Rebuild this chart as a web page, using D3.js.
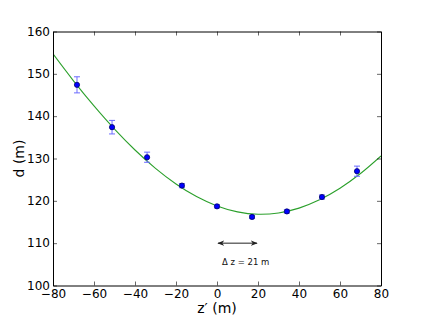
<!DOCTYPE html>
<html><head><meta charset="utf-8">
<script src="https://cdn.jsdelivr.net/npm/d3@7"></script>
<style>body{margin:0;background:#fff}svg{display:block}text{font-family:"DejaVu Sans",sans-serif}</style>
</head><body><svg id="c" width="424" height="318"></svg>
<script>
const zPos = [-68.3, -51.2, -34.1, -17.1, 0.0, 17.1, 34.1, 51.2, 68.3];
const dVal = [147.4, 137.4, 130.3, 123.6, 118.7, 116.2, 117.5, 120.9, 127.0];
const dErr = [1.9, 1.6, 1.2, 0.5, 0.4, 0.4, 0.4, 0.5, 1.2];
const fitZ = [-80, -70, -60, -50, -40, -30, -20, -10, 0, 10, 20, 30, 40, 50, 60, 70, 80];
const fitD = [154.70, 148.34, 142.41, 136.94, 132.01, 127.67, 123.98, 121.00, 118.80, 117.40, 116.84, 117.14, 118.28, 120.24, 122.98, 126.45, 130.60];
const xTicks = [-80, -60, -40, -20, 0, 20, 40, 60, 80];
const yTicks = [100, 110, 120, 130, 140, 150, 160];
const arrowZ = [0, 20];
const arrowD = 110;
const annText = "Δ z = 21 m";
const annZ = 14, annD = 105;

const svg = d3.select("#c");
const L = 53, R = 381, T = 31.5, B = 285.5;
const x = d3.scaleLinear().domain([-80, 80]).range([L, R]);
const y = d3.scaleLinear().domain([100, 160]).range([B, T]);
const fmt = d => d < 0 ? "\u2212" + Math.abs(d) : String(d);

const defs = svg.append("defs");
const clip = defs.append("clipPath").attr("id", "pc");
clip.append("rect").attr("x", L).attr("y", T).attr("width", R - L).attr("height", B - T);
defs.append("marker").attr("id", "ah").attr("viewBox", "0 0 10 10").attr("refX", 9).attr("refY", 5)
  .attr("markerWidth", 7).attr("markerHeight", 7).attr("orient", "auto-start-reverse")
  .append("path").attr("d", "M0,1 L10,5 L0,9 L3,5 Z").attr("fill", "#222");

// fit curve
const line = d3.line().x((d, i) => x(fitZ[i])).y(d => y(d)).curve(d3.curveCatmullRom);
svg.append("path").attr("d", line(fitD)).attr("fill", "none").attr("stroke", "#2ca02c")
  .attr("stroke-width", 1.1).attr("clip-path", "url(#pc)");

// error bars
const eb = svg.append("g").attr("stroke", "#6b6bff").attr("stroke-width", 1);
zPos.forEach((z, i) => {
  const cx = x(z), y0 = y(dVal[i] - dErr[i]), y1 = y(dVal[i] + dErr[i]);
  eb.append("line").attr("x1", cx).attr("x2", cx).attr("y1", y0).attr("y2", y1);
  eb.append("line").attr("x1", cx - 3).attr("x2", cx + 3).attr("y1", y0).attr("y2", y0);
  eb.append("line").attr("x1", cx - 3).attr("x2", cx + 3).attr("y1", y1).attr("y2", y1);
});
// points
svg.append("g").selectAll("circle").data(dVal).join("circle")
  .attr("cx", (d, i) => x(zPos[i])).attr("cy", d => y(d)).attr("r", 2.6)
  .attr("fill", "#0000ff").attr("stroke", "#000066").attr("stroke-width", 0.8);

// arrow annotation
svg.append("line").attr("x1", x(arrowZ[0]) + 1).attr("x2", x(arrowZ[1]) - 1)
  .attr("y1", y(arrowD)).attr("y2", y(arrowD)).attr("stroke", "#222").attr("stroke-width", 1)
  .attr("marker-start", "url(#ah)").attr("marker-end", "url(#ah)");
svg.append("text").attr("x", x(annZ)).attr("y", y(annD) + 1).attr("text-anchor", "middle")
  .attr("font-size", 8.5).attr("fill", "#111").text(annText);

// axes frame with inward ticks
const axB = d3.axisBottom(x).tickValues(xTicks).tickFormat(fmt).tickSizeInner(-4).tickSizeOuter(0).tickPadding(6);
const axT = d3.axisTop(x).tickValues(xTicks).tickFormat("").tickSizeInner(-4).tickSizeOuter(0);
const axL = d3.axisLeft(y).tickValues(yTicks).tickFormat(d => d).tickSizeInner(-4).tickSizeOuter(0).tickPadding(3);
const axR = d3.axisRight(y).tickValues(yTicks).tickFormat("").tickSizeInner(-4).tickSizeOuter(0);
const gB = svg.append("g").attr("transform", `translate(0,${B})`).call(axB);
const gT = svg.append("g").attr("transform", `translate(0,${T})`).call(axT);
const gL = svg.append("g").attr("transform", `translate(${L},0)`).call(axL);
const gR = svg.append("g").attr("transform", `translate(${R},0)`).call(axR);
[gB, gT, gL, gR].forEach(g => {
  g.selectAll(".domain").attr("stroke", "#000").attr("stroke-width", 1);
  g.selectAll(".tick line").attr("stroke", "#000").attr("stroke-width", 0.6);
  g.selectAll("text").attr("font-size", 12).attr("fill", "#000").attr("font-family", "DejaVu Sans");
});
gB.selectAll("text").attr("dy", "0.55em");
gL.selectAll("text").attr("dy", "0.3em");

svg.append("text").attr("x", (L + R) / 2).attr("y", 313).attr("text-anchor", "middle")
  .attr("font-size", 14).text("z\u2032 (m)");
svg.append("text").attr("transform", `translate(24,${(T + B) / 2}) rotate(-90)`).attr("text-anchor", "middle")
  .attr("font-size", 14).text("d (m)");
</script></body></html>
